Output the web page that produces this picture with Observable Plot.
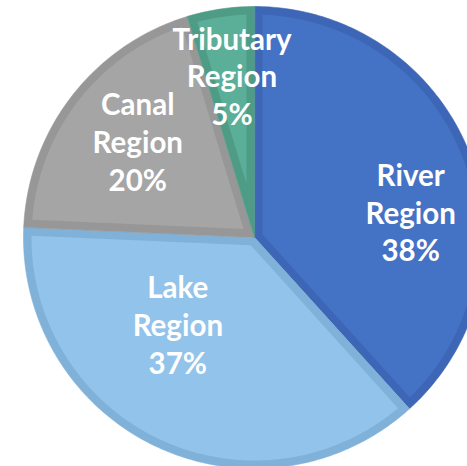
<!DOCTYPE html>
<html>
<head>
<meta charset="utf-8">
<script src="https://cdn.jsdelivr.net/npm/d3@7"></script>
<script src="https://cdn.jsdelivr.net/npm/@observablehq/plot@0.6"></script>
<style>
  html, body { margin: 0; padding: 0; background: #ffffff; }
  #chart svg { display: block; }
</style>
</head>
<body>
<div id="chart"></div>
<script>
// ---- data ----
const categories = ["River Region", "Lake Region", "Canal Region", "Tributary Region"];
const values = [38.3, 37.4, 19.6, 4.7];
const percentLabels = ["38%", "37%", "20%", "5%"];
const fillColors = ["#4472C4", "#92C3EA", "#A5A5A5", "#5BAE97"];
const borderColors = ["#3E66B6", "#80B1D8", "#979797", "#4F9C86"];
// label placement (polar: angle in degrees clockwise from top, radius as fraction of pie radius)
const labelAngles = [81.3, 221, 309, 352];
const labelRadii = [0.684, 0.506, 0.65, 0.70];

// ---- geometry ----
const W = 467, H = 466, R = 231, CX = 254, CY = 237;
const inset = 8 / R;
const total = d3.sum(values);
let acc = 0;
const slices = values.map((v, i) => {
  const a0 = acc / total * 2 * Math.PI;
  acc += v;
  const a1 = acc / total * 2 * Math.PI;
  return {i, a0, a1};
});
const pt = (a, r) => ({x: Math.sin(a) * r, y: Math.cos(a) * r});

function outerPoly(s) {
  const pts = [{x: 0, y: 0}];
  const n = Math.max(2, Math.ceil((s.a1 - s.a0) / (Math.PI / 180)));
  for (let k = 0; k <= n; k++) pts.push(pt(s.a0 + (s.a1 - s.a0) * k / n, 1));
  return pts.map(p => ({...p, id: s.i}));
}
function innerPoly(s) {
  const span = s.a1 - s.a0;
  const mid = (s.a0 + s.a1) / 2;
  const apexR = inset / Math.sin(span / 2);
  const pts = [pt(mid, apexR)];
  const r = 1 - inset;
  const da = Math.asin(inset / r);
  const b0 = s.a0 + da, b1 = s.a1 - da;
  const n = Math.max(2, Math.ceil((b1 - b0) / (Math.PI / 180)));
  for (let k = 0; k <= n; k++) pts.push(pt(b0 + (b1 - b0) * k / n, r));
  return pts.map(p => ({...p, id: s.i}));
}

const labelData = categories.map((c, i) => {
  const a = labelAngles[i] * Math.PI / 180;
  const p = pt(a, labelRadii[i]);
  const words = c.split(" ");
  return {x: p.x, y: p.y, text: words.join("\n") + "\n" + percentLabels[i]};
});

const marks = [];
slices.forEach(s => {
  marks.push(Plot.line(outerPoly(s), {x: "x", y: "y", curve: "linear-closed", fill: borderColors[s.i], stroke: borderColors[s.i], strokeWidth: 0.6}));
  marks.push(Plot.line(innerPoly(s), {x: "x", y: "y", curve: "linear-closed", fill: fillColors[s.i], stroke: "none"}));
});
marks.push(Plot.text(labelData, {
  x: "x", y: "y", text: "text", dy: -2,
  fill: "white", fontWeight: "bold", fontSize: 29.5, lineHeight: 1.28,
  fontFamily: "Lato, 'Open Sans', sans-serif"
}));

const chart = Plot.plot({
  width: W, height: H,
  margin: 0,
  x: {domain: [-CX / R, (W - CX) / R], axis: null},
  y: {domain: [-(H - CY) / R, CY / R], axis: null},
  style: {background: "white"},
  marks
});
document.getElementById("chart").appendChild(chart);
</script>
</body>
</html>
